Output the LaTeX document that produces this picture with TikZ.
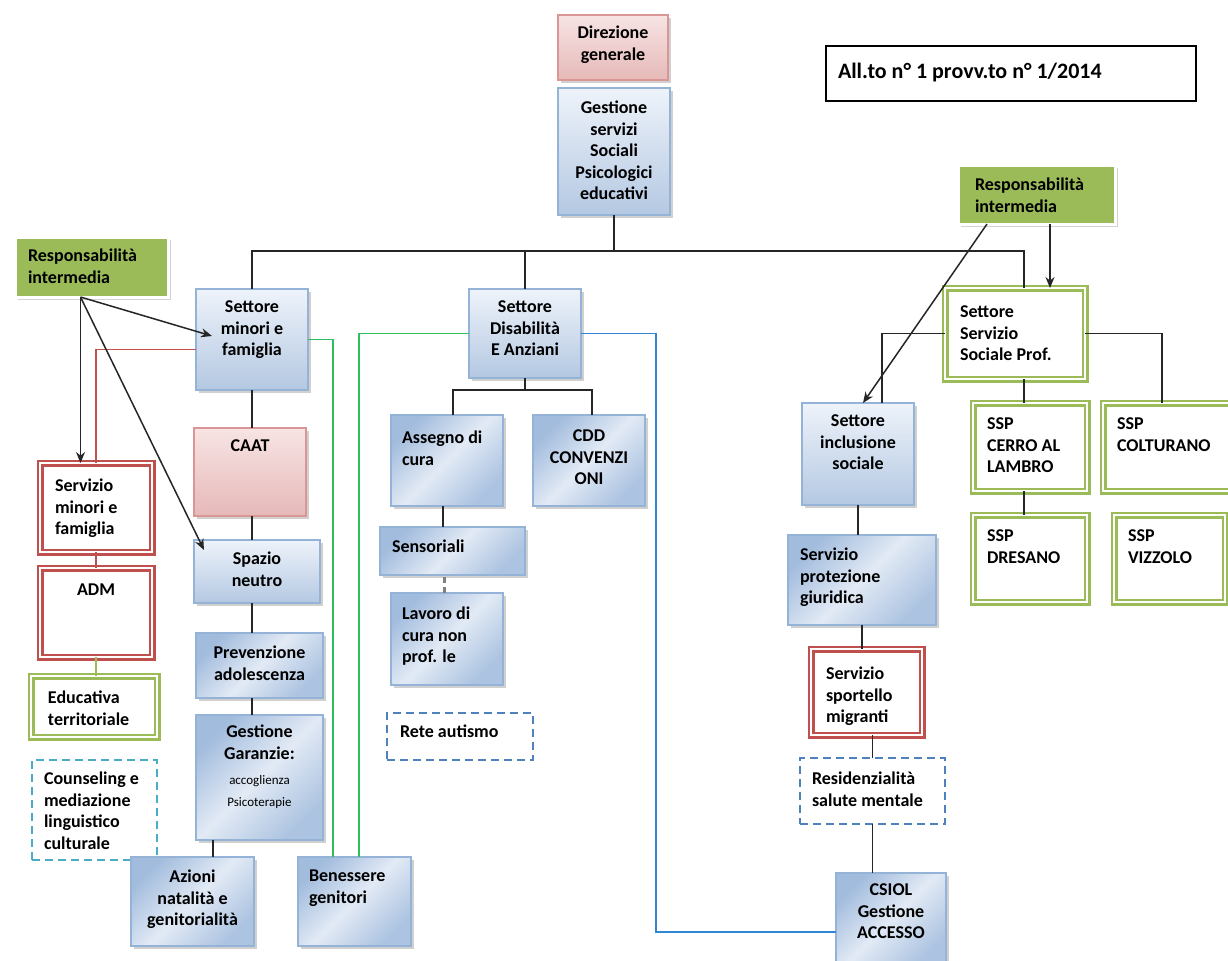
\documentclass[tikz,border=0pt]{standalone}
\usepackage{fontspec}
\setmainfont{Carlito}
\usetikzlibrary{arrows.meta,shadows,calc}
\definecolor{boxblue}{HTML}{95B3D7}
\definecolor{blueTop}{HTML}{EEF3FA}
\definecolor{blueBot}{HTML}{B4C8E2}
\definecolor{blueDark}{HTML}{A2BCDD}
\definecolor{blueLight}{HTML}{E2EAF5}
\definecolor{pinkTop}{HTML}{F7E4E4}
\definecolor{pinkBot}{HTML}{E6B9B8}
\definecolor{pinkLine}{HTML}{D99694}
\definecolor{offRed}{HTML}{C0504D}
\definecolor{offGreen}{HTML}{9BBB59}
\definecolor{offTeal}{HTML}{4BACC6}
\definecolor{offBlue}{HTML}{4F81BD}
\definecolor{lineGreen}{HTML}{2FBF5F}
\definecolor{lineBlue}{HTML}{2F86D4}
\newdimen\upx \upx=0.5pt
\newcommand\mybc[4]{\parbox[c][#2\upx][t]{#1\upx}{\vspace*{#3\upx}\centering #4\par}}
\newcommand\mybl[5]{\parbox[c][#2\upx][t]{#1\upx}{\vspace*{#3\upx}\raggedright\leftskip=#4\upx\relax #5\par}}
\tikzset{
 base/.style={inner sep=0pt, outer sep=0pt, font=\fontsize{9}{10.75}\selectfont\bfseries, text=black},
 shad/.style={drop shadow={shadow xshift=1.6pt, shadow yshift=-1.6pt, opacity=0.3, fill=black!60}},
 bluebox/.style={base, shad, draw=boxblue, line width=0.6pt, top color=blueTop, bottom color=blueBot},
 bluediag/.style={base, shad, draw=boxblue, line width=0.6pt, top color=blueDark, bottom color=blueDark!85!blueLight, middle color=blueLight, shading angle=45},
 pinkbox/.style={base, shad, draw=pinkLine, line width=0.6pt, top color=pinkTop, bottom color=pinkBot},
 greenfill/.style={base, fill=offGreen, draw=white, line width=1.5pt, drop shadow={shadow xshift=1.5pt, shadow yshift=-1.5pt, opacity=0.35, fill=black!50}},
 greendbl/.style={base, fill=white, draw=offGreen, double=white, line width=1.25pt, double distance=1pt},
 reddbl/.style={base, fill=white, draw=offRed, double=white, line width=1.25pt, double distance=1pt},
 tealdash/.style={base, draw=offTeal, line width=0.7pt, dash pattern=on 4pt off 2.5pt},
 bluedash/.style={base, draw=offBlue, line width=0.7pt, dash pattern=on 4pt off 2.5pt},
 plainbox/.style={base, draw=black, line width=1pt, fill=white},
 conn/.style={draw=black!85, line width=0.75pt},
 arr/.style={conn, -{Stealth[length=5.5pt,width=4.5pt]}},
 redline/.style={draw=offRed, line width=0.8pt},
 greenline/.style={draw=lineGreen, line width=0.75pt},
 blueline/.style={draw=lineBlue, line width=0.75pt},
 lgreenline/.style={draw=offGreen, line width=0.6pt},
 dashline/.style={draw=gray, line width=1.5pt, dash pattern=on 3pt off 2pt}
}
\begin{document}
\begin{tikzpicture}[x=0.5pt,y=-0.5pt]
\useasboundingbox (0,0) rectangle (1228,960);
\fill[white] (0,0) rectangle (1228,960);
% nodes
\node[pinkbox] (dir) at (613,47.5) {\mybc{110}{65}{11}{Direzione\\generale}};
\node[bluebox] (gest) at (614,151.5) {\mybc{112}{127}{13}{Gestione\\servizi\\Sociali\\Psicologici\\educativi}};
\node[plainbox] (allto) at (1011,73.5) {\mybl{370}{55}{17}{12}{\fontsize{11}{13}\selectfont All.to n° 1 provv.to n° 1/2014}};
\node[greenfill] (rR) at (1036.5,194.5) {\mybl{157}{59}{13}{17}{Responsabilità\\intermedia}};
\node[greenfill] (rL) at (91.5,267) {\mybl{153}{60}{12}{13}{Responsabilità\\intermedia}};
\node[bluebox] (smf) at (252,339.5) {\mybc{112}{101}{12}{Settore\\minori e\\famiglia}};
\node[bluebox] (sda) at (525,333.5) {\mybc{112}{89}{12}{Settore\\Disabilità\\E Anziani}};
\node[greendbl] (sssp) at (1015,333.5) {\mybl{140}{91}{18}{15}{Settore\\Servizio\\Sociale Prof.}};
\node[pinkbox] (caat) at (250,472) {\mybc{112}{88}{12}{CAAT}};
\node[reddbl] (smfam) at (96,507.5) {\mybl{112}{89}{16}{15}{Servizio\\minori e\\famiglia}};
\node[reddbl] (adm) at (96,612.5) {\mybc{112}{89}{16}{ADM}};
\node[greendbl] (edu) at (94,706.5) {\mybl{126}{61}{15}{17}{Educativa\\territoriale}};
\node[tealdash] (couns) at (94.5,810) {\mybl{125}{100}{12}{12}{Counseling e\\mediazione\\linguistico\\culturale}};
\node[bluebox] (spazio) at (257,571.5) {\mybc{126}{63}{12}{Spazio\\neutro}};
\node[bluediag] (prev) at (259.5,665.5) {\mybc{127}{65}{13}{Prevenzione\\adolescenza}};
\node[bluediag] (garanz) at (259.5,777.5) {\mybc{127}{125}{10}{Gestione\\Garanzie:\par\vspace{3\upx}{\fontsize{6.5}{11}\selectfont\mdseries accoglienza\\Psicoterapie\par}}};
\node[bluediag] (azioni) at (192.5,901.5) {\mybc{123}{89}{13}{Azioni\\natalità e\\genitorialità}};
\node[bluediag] (benes) at (354.5,901.5) {\mybl{113}{89}{13}{11}{Benessere\\genitori}};
\node[bluediag] (assegno) at (447,460.5) {\mybl{112}{91}{16}{11}{Assegno di\\cura}};
\node[bluediag] (cdd) at (589,460.5) {\mybc{112}{91}{15}{CDD\\CONVENZI\\ONI}};
\node[bluediag] (sens) at (452.5,551) {\mybl{145}{48}{13}{12}{Sensoriali}};
\node[bluediag] (lavoro) at (447,639) {\mybl{112}{92}{14}{11}{Lavoro di\\cura non\\prof. le}};
\node[bluedash] (rete) at (460,736.5) {\mybl{146}{47}{12}{13}{Rete autismo}};
\node[bluebox] (sis) at (858,454) {\mybc{112}{102}{12}{Settore\\inclusione\\sociale}};
\node[bluediag] (spg) at (862,580) {\mybl{148}{90}{13}{12}{Servizio\\protezione\\giuridica}};
\node[reddbl] (ssm) at (866.5,692) {\mybl{111}{86}{18}{15}{Servizio\\sportello\\migranti}};
\node[bluedash] (res) at (872.5,791) {\mybl{145}{66}{14}{12}{Residenzialità\\salute mentale}};
\node[bluediag] (csiol) at (891,919.5) {\mybc{110}{93}{11}{CSIOL\\Gestione\\ACCESSO}};
\node[greendbl] (cerro) at (1030,447) {\mybl{114}{88}{15}{14}{SSP\\CERRO AL\\LAMBRO}};
\node[greendbl] (coltur) at (1170,447) {\mybl{134}{88}{15}{14}{SSP\\COLTURANO}};
\node[greendbl] (dresano) at (1030,558.5) {\mybl{114}{87}{15}{14}{SSP\\DRESANO}};
\node[greendbl] (vizzolo) at (1169.5,558.5) {\mybl{111}{87}{15}{14}{SSP\\VIZZOLO}};
% helper coordinates
\coordinate (busy) at (0,251);
\coordinate (sssptop) at ($(sssp.north)+(9,0)$);
\coordinate (ssspbot) at ($(sssp.south)+(9,0)$);
\coordinate (sdab) at ($(sda.south)+(0,12)$);
\coordinate (bl) at (656,932);
\coordinate (a1) at ($(azioni.north)+(20.5,0)$);
\coordinate (rLs) at ($(rL.south)+(-11,0)$);
\coordinate (rRa) at ($(rR.south)+(13.5,0)$);
\coordinate (rRb) at ($(rR.south)+(-49.5,0)$);
% main tree
\draw[conn] (gest.south) -- (gest.south |- busy);
\draw[conn] (smf.north) -- (smf.north |- busy) -- (sssptop |- busy) -- (sssptop);
\draw[conn] (sda.north) -- (sda.north |- busy);
% right branch
\draw[arr] (rRa) -- ($(sssp.north)+(35,0)$);
\draw[arr] (rRb) -- ($(sis.north)+(5,0)$);
\draw[conn] (sssp.west) -| ($(sis.north)+(24,0)$);
\draw[conn] (sssp.east) -| ($(coltur.north)+(-8,0)$);
\draw[conn] (ssspbot) -- (ssspbot |- cerro.north);
\draw[conn] ($(cerro.south)+(-6,0)$) -- ($(dresano.north)+(-6,0)$);
\draw[conn] (sis.south) -- (sis.south |- spg.north);
\draw[conn] (spg.south) -- (spg.south |- ssm.north);
\draw[conn] (res.north) -- (res.north |- ssm.south);
\draw[conn] (res.south) -- (res.south |- csiol.north);
% coloured links
\draw[blueline] (sda.east) -| (bl) -- (bl -| csiol.west);
\draw[greenline] (smf.east) -| ($(benes.north)+(-21.5,0)$);
\draw[greenline] (sda.west) -| ($(benes.north)+(4.5,0)$);
\draw[redline] ($(smf.west)+(0,10)$) -| (smfam.north);
\draw[redline] (smfam.south) -- (adm.north);
\draw[lgreenline] (adm.south) -- (adm.south |- edu.north);
% left branch
\draw[arr] (rLs) -- (rLs |- smfam.north);
\draw[arr] (rLs) -- ($(smf.west)+(16,-3.5)$);
\draw[arr] (rLs) -- ($(spazio.north west)+(10,10)$);
\draw[conn] (smf.south) -- (smf.south |- caat.north);
\draw[conn] (caat.south -| smf.south) -- (spazio.north -| smf.south);
\draw[conn] (spazio.south -| smf.south) -- (prev.north -| smf.south);
\draw[conn] (prev.south -| smf.south) -- (garanz.north -| smf.south);
\draw[conn] (a1) -- (a1 |- garanz.south);
% disability branch
\draw[conn] (sda.south) -- (sdab);
\draw[conn] ($(assegno.north)+(6,0)$) |- (sdab) -| ($(cdd.north)+(3,0)$);
\draw[conn] ($(assegno.south)+(-4,0)$) -- ($(sens.north)+(-9.5,0)$);
\draw[dashline] ($(lavoro.north)+(-3,0)$) -- ($(sens.south)+(-8.5,0)$);
\end{tikzpicture}
\end{document}
